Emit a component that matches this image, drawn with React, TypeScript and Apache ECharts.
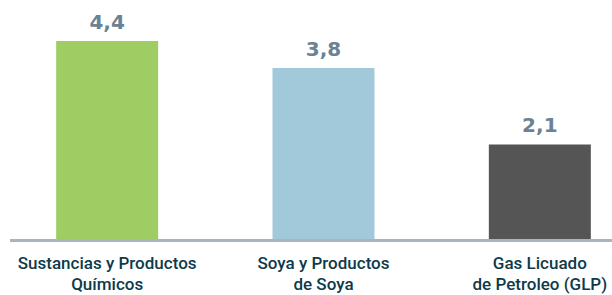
import React, { useEffect, useRef } from "react";
import * as echarts from "echarts";

const categories = ["Sustancias y Productos\nQuímicos", "Soya y Productos\nde Soya", "Gas Licuado\nde Petroleo (GLP)"];
const values = [4.4, 3.8, 2.1];
const barColors = ["#a0cd63", "#a1c9da", "#555555"];

export default function App() {
  const ref = useRef<HTMLDivElement>(null);
  useEffect(() => {
    if (!ref.current) return;
    const chart = echarts.init(ref.current, null, { renderer: "svg" });
    chart.setOption({
      animation: false,
      grid: { left: -1, right: -36, top: 14, bottom: 56, containLabel: false, outerBoundsMode: "none" },
      xAxis: {
        type: "category",
        data: categories,
        axisLine: { show: false },
        axisTick: { show: false },
        axisLabel: {
          interval: 0,
          margin: 13,
          fontFamily: "Roboto, sans-serif",
          fontWeight: 500,
          fontSize: 17,
          lineHeight: 21,
          color: "#0e3a4a",
        },
      },
      yAxis: {
        type: "value",
        min: 0,
        max: 5,
        show: false,
        splitLine: { show: false },
      },
      series: [
        {
          type: "bar",
          barWidth: 102,
          data: values.map((v, i) => ({ value: v, itemStyle: { color: barColors[i] } })),
          label: {
            show: true,
            position: "top",
            distance: 9.5,
            formatter: (p: any) => String(p.value).replace(".", ","),
            fontFamily: "'DejaVu Sans', sans-serif",
            fontWeight: "bold",
            fontSize: 20,
            color: "#6a8294",
          },
        },
      ],
      graphic: [
        {
          type: "line",
          shape: { x1: 10, y1: 240.5, x2: 612, y2: 240.5 },
          style: { stroke: "#a8b5bc", lineWidth: 3 },
          z: 10,
        },
      ],
    });
    return () => chart.dispose();
  }, []);
  return <div ref={ref} style={{ width: 612, height: 295, position: "absolute", left: 0, top: 0 }} />;
}
